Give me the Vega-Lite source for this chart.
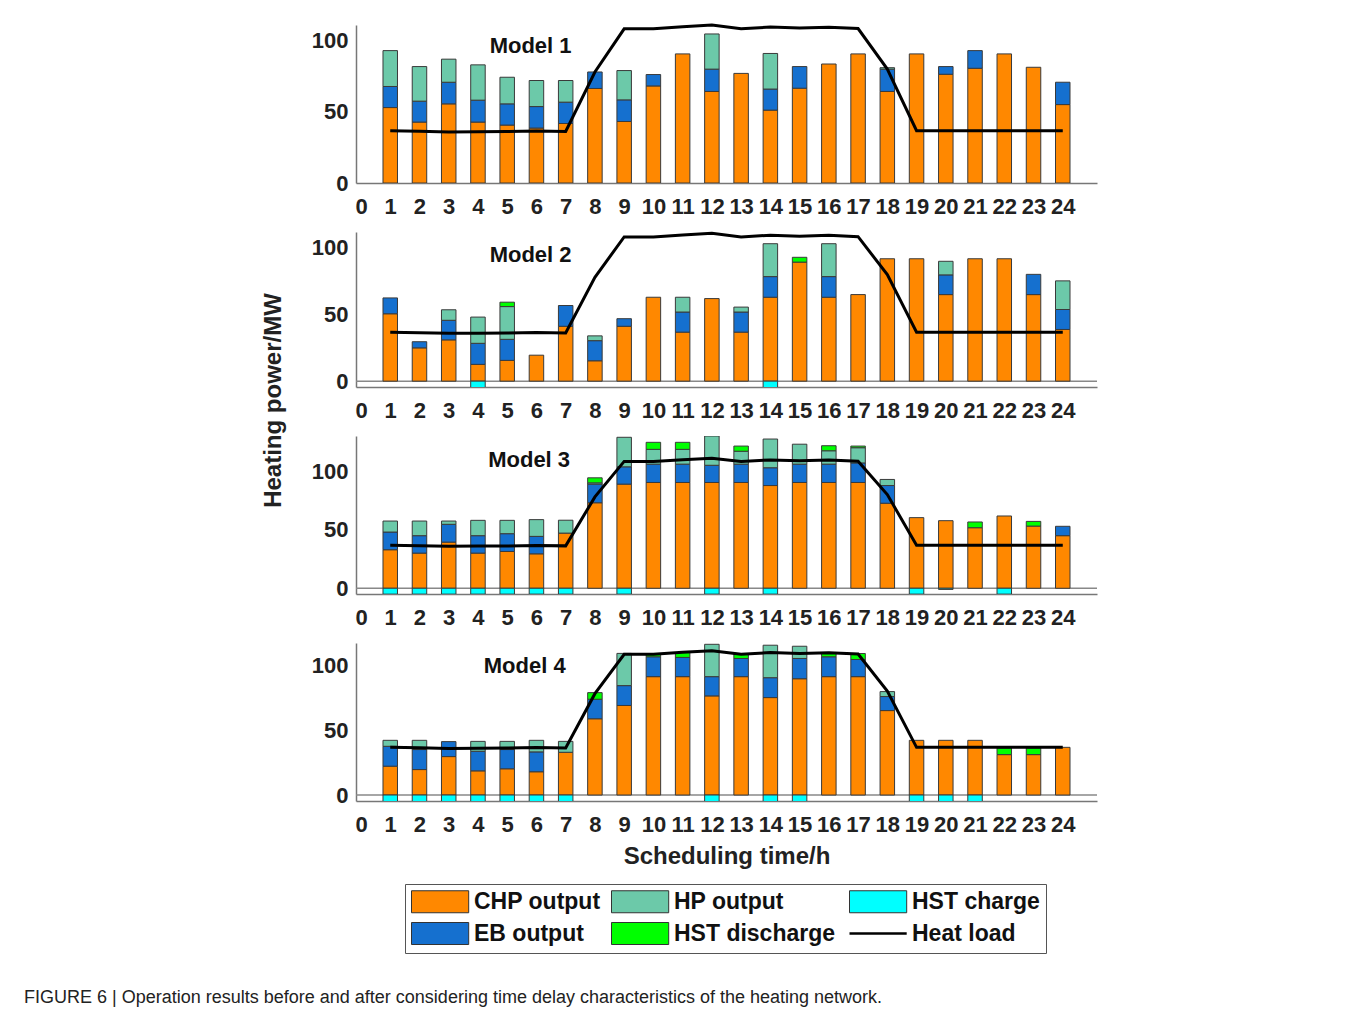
{
  "$schema": "https://vega.github.io/schema/vega-lite/v6.json",
  "autosize": {"type": "pad"},
  "padding": {"left": 24, "top": 19, "right": 0, "bottom": 0},
  "background": "white",
  "bounds": "flush",
  "spacing": 49,
  "config": {
    "view": {"stroke": null},
    "font": "Liberation Sans",
    "axis": {
      "labelFont": "Liberation Sans", "labelFontSize": 22, "labelFontWeight": "bold", "labelColor": "#222",
      "domainColor": "#777", "domainWidth": 1.5, "ticks": false, "grid": false,
      "titleFont": "Liberation Sans", "titleFontSize": 24, "titleFontWeight": "bold", "titleColor": "#222"
    },
    "axisX": {"labelPadding": 13, "labelAngle": 0, "labelOverlap": false, "labelFlush": false, "labelSeparation": 0},
    "axisY": {"labelPadding": 8},
    "legend": {
      "orient": "none", "legendX": 49, "legendY": 859,
      "title": null, "columns": 3, "direction": "horizontal",
      "symbolType": "M-1,-1H4.2V1H-1Z", "symbolSize": 484,
      "symbolStrokeColor": "#333", "symbolStrokeWidth": 1, "symbolOpacity": 1,
      "labelFont": "Liberation Sans", "labelFontSize": 23, "labelFontWeight": "bold", "labelColor": "#111",
      "labelOffset": 40, "labelLimit": 400, "columnPadding": 8, "rowPadding": 5,
      "strokeColor": "#555", "padding": 6, "fillColor": "white"
    }
  },
  "title": {
    "text": "FIGURE 6 | Operation results before and after considering time delay characteristics of the heating network.",
    "orient": "bottom", "anchor": "start", "frame": "group", "dx": -332, "offset": 35,
    "font": "Liberation Sans", "fontSize": 18, "fontWeight": "normal", "color": "#222"
  },
  "datasets": {
    "ops": [
      {"model":"Model 1","hour":1,"CHP output":53,"EB output":14.8,"HP output":25.2,"Heat load":36.7},
      {"model":"Model 1","hour":2,"CHP output":42.8,"EB output":14.7,"HP output":24.3,"Heat load":36.3},
      {"model":"Model 1","hour":3,"CHP output":55.6,"EB output":15.2,"HP output":16.2,"Heat load":35.9},
      {"model":"Model 1","hour":4,"CHP output":42.8,"EB output":15.4,"HP output":24.8,"Heat load":36},
      {"model":"Model 1","hour":5,"CHP output":40.7,"EB output":14.9,"HP output":18.7,"Heat load":36.1},
      {"model":"Model 1","hour":6,"CHP output":38.6,"EB output":15.1,"HP output":18.3,"Heat load":36.6},
      {"model":"Model 1","hour":7,"CHP output":41.8,"EB output":15,"HP output":15.2,"Heat load":36.2},
      {"model":"Model 1","hour":8,"CHP output":66.4,"EB output":11.6,"Heat load":78},
      {"model":"Model 1","hour":9,"CHP output":43.2,"EB output":15.2,"HP output":20.6,"Heat load":108.3},
      {"model":"Model 1","hour":10,"CHP output":68.2,"EB output":8,"Heat load":108.3},
      {"model":"Model 1","hour":11,"CHP output":90.7,"Heat load":109.8},
      {"model":"Model 1","hour":12,"CHP output":64.3,"EB output":15.7,"HP output":24.7,"Heat load":111},
      {"model":"Model 1","hour":13,"CHP output":77,"Heat load":108.3},
      {"model":"Model 1","hour":14,"CHP output":51.2,"EB output":14.8,"HP output":25,"Heat load":109.6},
      {"model":"Model 1","hour":15,"CHP output":66.6,"EB output":15.2,"Heat load":108.9},
      {"model":"Model 1","hour":16,"CHP output":83.6,"Heat load":109.5},
      {"model":"Model 1","hour":17,"CHP output":90.7,"Heat load":108.5},
      {"model":"Model 1","hour":18,"CHP output":64.3,"EB output":15.7,"HP output":1,"Heat load":80},
      {"model":"Model 1","hour":19,"CHP output":90.7,"Heat load":36.7},
      {"model":"Model 1","hour":20,"CHP output":76.4,"EB output":5.4,"Heat load":36.7},
      {"model":"Model 1","hour":21,"CHP output":80.6,"EB output":12.4,"Heat load":36.7},
      {"model":"Model 1","hour":22,"CHP output":90.7,"Heat load":36.7},
      {"model":"Model 1","hour":23,"CHP output":81.3,"Heat load":36.7},
      {"model":"Model 1","hour":24,"CHP output":55.1,"EB output":15.7,"Heat load":36.7},

      {"model":"Model 2","hour":1,"CHP output":50.6,"EB output":11.9,"Heat load":36.7},
      {"model":"Model 2","hour":2,"CHP output":25,"EB output":4.6,"Heat load":36.3},
      {"model":"Model 2","hour":3,"CHP output":31,"EB output":14.7,"HP output":7.9,"Heat load":35.9},
      {"model":"Model 2","hour":4,"CHP output":12.6,"EB output":15.8,"HP output":19.7,"HST charge":-5,"Heat load":36},
      {"model":"Model 2","hour":5,"CHP output":15.6,"EB output":15.8,"HP output":24.6,"HST discharge":3.3,"Heat load":36.1},
      {"model":"Model 2","hour":6,"CHP output":19.5,"Heat load":36.6},
      {"model":"Model 2","hour":7,"CHP output":41.2,"EB output":15.6,"Heat load":36.2},
      {"model":"Model 2","hour":8,"CHP output":15.3,"EB output":15.1,"HP output":3.6,"Heat load":78},
      {"model":"Model 2","hour":9,"CHP output":41.2,"EB output":5.7,"Heat load":108.3},
      {"model":"Model 2","hour":10,"CHP output":63,"Heat load":108.3},
      {"model":"Model 2","hour":11,"CHP output":36.8,"EB output":15.1,"HP output":11.1,"Heat load":109.8},
      {"model":"Model 2","hour":12,"CHP output":62,"Heat load":111},
      {"model":"Model 2","hour":13,"CHP output":36.8,"EB output":15.1,"HP output":3.7,"Heat load":108.3},
      {"model":"Model 2","hour":14,"CHP output":63,"EB output":15.5,"HP output":24.7,"HST charge":-5,"Heat load":109.6},
      {"model":"Model 2","hour":15,"CHP output":89.4,"HST discharge":3.6,"Heat load":108.9},
      {"model":"Model 2","hour":16,"CHP output":63,"EB output":15.5,"HP output":24.7,"Heat load":109.5},
      {"model":"Model 2","hour":17,"CHP output":65,"Heat load":108.5},
      {"model":"Model 2","hour":18,"CHP output":91.9,"Heat load":80},
      {"model":"Model 2","hour":19,"CHP output":91.9,"Heat load":36.7},
      {"model":"Model 2","hour":20,"CHP output":65,"EB output":14.8,"HP output":10.2,"Heat load":36.7},
      {"model":"Model 2","hour":21,"CHP output":91.9,"Heat load":36.7},
      {"model":"Model 2","hour":22,"CHP output":91.9,"Heat load":36.7},
      {"model":"Model 2","hour":23,"CHP output":65,"EB output":15.2,"Heat load":36.7},
      {"model":"Model 2","hour":24,"CHP output":38.8,"EB output":15,"HP output":21.5,"Heat load":36.7},

      {"model":"Model 3","hour":1,"CHP output":32.9,"EB output":15.1,"HP output":9.4,"HST charge":-5,"Heat load":36.7},
      {"model":"Model 3","hour":2,"CHP output":30,"EB output":14.9,"HP output":12.5,"HST charge":-5,"Heat load":36.3},
      {"model":"Model 3","hour":3,"CHP output":39.4,"EB output":15.2,"HP output":2.8,"HST charge":-5,"Heat load":35.9},
      {"model":"Model 3","hour":4,"CHP output":30,"EB output":14.9,"HP output":13.1,"HST charge":-5,"Heat load":36},
      {"model":"Model 3","hour":5,"CHP output":31.4,"EB output":15.2,"HP output":11.4,"HST charge":-5,"Heat load":36.1},
      {"model":"Model 3","hour":6,"CHP output":29.4,"EB output":14.9,"HP output":14.3,"HST charge":-5,"Heat load":36.6},
      {"model":"Model 3","hour":7,"CHP output":47.1,"HP output":11,"HST charge":-5,"Heat load":36.2},
      {"model":"Model 3","hour":8,"CHP output":73,"EB output":15.9,"HP output":1.1,"HST discharge":4.3,"Heat load":78},
      {"model":"Model 3","hour":9,"CHP output":88.9,"EB output":14.8,"HP output":25.2,"HST charge":-5,"Heat load":108.3},
      {"model":"Model 3","hour":10,"CHP output":90.3,"EB output":15.7,"HP output":12.6,"HST discharge":6,"Heat load":108.3},
      {"model":"Model 3","hour":11,"CHP output":90.3,"EB output":15.7,"HP output":12.6,"HST discharge":6,"Heat load":109.8},
      {"model":"Model 3","hour":12,"CHP output":90.3,"EB output":14.7,"HP output":25,"HST charge":-5,"Heat load":111},
      {"model":"Model 3","hour":13,"CHP output":90.3,"EB output":15.7,"HP output":11,"HST discharge":4.4,"Heat load":108.3},
      {"model":"Model 3","hour":14,"CHP output":87.7,"EB output":15.2,"HP output":24.5,"HST charge":-5,"Heat load":109.6},
      {"model":"Model 3","hour":15,"CHP output":90.3,"EB output":15.7,"HP output":17,"Heat load":108.9},
      {"model":"Model 3","hour":16,"CHP output":90.3,"EB output":15.7,"HP output":11.4,"HST discharge":4.3,"Heat load":109.5},
      {"model":"Model 3","hour":17,"CHP output":90.3,"EB output":16.7,"HP output":13,"HST discharge":1.4,"Heat load":108.5},
      {"model":"Model 3","hour":18,"CHP output":72.6,"EB output":15.1,"HP output":5.2,"Heat load":80},
      {"model":"Model 3","hour":19,"CHP output":60.3,"HST charge":-5,"Heat load":36.7},
      {"model":"Model 3","hour":20,"CHP output":57.7,"HST charge":-1,"Heat load":36.7},
      {"model":"Model 3","hour":21,"CHP output":51.7,"HST discharge":4.9,"Heat load":36.7},
      {"model":"Model 3","hour":22,"CHP output":61.7,"HST charge":-5,"Heat load":36.7},
      {"model":"Model 3","hour":23,"CHP output":53.1,"HST discharge":4,"Heat load":36.7},
      {"model":"Model 3","hour":24,"CHP output":44.9,"EB output":8,"Heat load":36.7},

      {"model":"Model 4","hour":1,"CHP output":22.2,"EB output":15.3,"HP output":4.6,"HST charge":-5,"Heat load":36.7},
      {"model":"Model 4","hour":2,"CHP output":19.6,"EB output":15.4,"HP output":7.1,"HST charge":-5,"Heat load":36.3},
      {"model":"Model 4","hour":3,"CHP output":29.6,"EB output":11.5,"HST charge":-5,"Heat load":35.9},
      {"model":"Model 4","hour":4,"CHP output":18.6,"EB output":15.1,"HP output":7.6,"HST charge":-5,"Heat load":36},
      {"model":"Model 4","hour":5,"CHP output":20.2,"EB output":14.8,"HP output":6.3,"HST charge":-5,"Heat load":36.1},
      {"model":"Model 4","hour":6,"CHP output":17.9,"EB output":15.3,"HP output":8.9,"HST charge":-5,"Heat load":36.6},
      {"model":"Model 4","hour":7,"CHP output":32.9,"HP output":8.4,"HST charge":-5,"Heat load":36.2},
      {"model":"Model 4","hour":8,"CHP output":58.7,"EB output":15,"HST discharge":5.1,"Heat load":78},
      {"model":"Model 4","hour":9,"CHP output":68.9,"EB output":15.3,"HP output":24.8,"Heat load":108.3},
      {"model":"Model 4","hour":10,"CHP output":91.1,"EB output":15.3,"HST discharge":2,"Heat load":108.3},
      {"model":"Model 4","hour":11,"CHP output":91.1,"EB output":14.8,"HST discharge":3.8,"Heat load":109.8},
      {"model":"Model 4","hour":12,"CHP output":76.3,"EB output":14.8,"HP output":24.9,"HST charge":-5,"Heat load":111},
      {"model":"Model 4","hour":13,"CHP output":91.1,"EB output":14,"HST discharge":3.4,"Heat load":108.3},
      {"model":"Model 4","hour":14,"CHP output":75,"EB output":15.3,"HP output":25,"HST charge":-5,"Heat load":109.6},
      {"model":"Model 4","hour":15,"CHP output":89.5,"EB output":15.6,"HP output":9.4,"HST charge":-5,"Heat load":108.9},
      {"model":"Model 4","hour":16,"CHP output":91.1,"EB output":15.3,"HST discharge":3.3,"Heat load":109.5},
      {"model":"Model 4","hour":17,"CHP output":91.1,"EB output":13.2,"HST discharge":4.6,"Heat load":108.5},
      {"model":"Model 4","hour":18,"CHP output":65,"EB output":10.8,"HP output":3.8,"Heat load":80},
      {"model":"Model 4","hour":19,"CHP output":42.1,"HST charge":-5,"Heat load":36.7},
      {"model":"Model 4","hour":20,"CHP output":42.1,"HST charge":-5,"Heat load":36.7},
      {"model":"Model 4","hour":21,"CHP output":42.1,"HST charge":-5,"Heat load":36.7},
      {"model":"Model 4","hour":22,"CHP output":31.1,"HST discharge":5.1,"Heat load":36.7},
      {"model":"Model 4","hour":23,"CHP output":31.1,"HST discharge":5.1,"Heat load":36.7},
      {"model":"Model 4","hour":24,"CHP output":36.7,"Heat load":36.7}
    ]
  },
  "vconcat": [
    {
      "width": 741, "height": 158,
      "encoding": {
        "x": {"field": "hour", "type": "quantitative", "scale": {"domain": [0, 25], "nice": false},
              "axis": {"values": [0,1,2,3,4,5,6,7,8,9,10,11,12,13,14,15,16,17,18,19,20,21,22,23,24], "labelOverlap": false, "labelSeparation": 0, "title": null}}
      },
      "layer": [
        {
          "data": {"name": "ops"},
          "transform": [
            {"filter": "datum.model === 'Model 1'"},
            {"fold": ["CHP output", "EB output", "HP output", "HST charge", "HST discharge"], "as": ["source", "value"]},
            {"filter": "isValid(datum.value)"}
          ],
          "mark": {"type": "bar", "width": 14.5, "stroke": "#3a3a3a", "strokeWidth": 1, "clip": true},
          "encoding": {
            "y": {"field": "value", "type": "quantitative", "stack": "zero", "scale": {"domain": [0, 111], "nice": false},
                  "axis": {"values": [0, 50, 100], "title": null}},
            "color": {"field": "source", "type": "nominal",
                      "scale": {"domain": ["CHP output", "HP output", "HST charge", "EB output", "HST discharge", "Heat load"],
                                "range": ["#FF8800", "#6CC9A9", "#00FFFF", "#1570CF", "#00FF00", "#000000"]},
                      "legend": {"encode": {"symbols": {"update": {
                        "shape": {"signal": "datum.value === 'Heat load' ? 'M-1,0H4.2' : 'M-1,-1H4.2V1H-1Z'"},
                        "stroke": {"signal": "datum.value === 'Heat load' ? '#000' : '#333'"},
                        "strokeWidth": {"signal": "datum.value === 'Heat load' ? 2.5 : 1"}}}}}},
            "order": {"field": "source", "sort": "ascending"}
          }
        },
        {
          "data": {"name": "ops"},
          "transform": [{"filter": "datum.model === 'Model 1'"}],
          "mark": {"type": "line", "color": "#000", "strokeWidth": 3},
          "encoding": {"y": {"field": "Heat load", "type": "quantitative"}}
        },
        {
          "data": {"values": [{"label": "Model 1", "hour": 5.8}]},
          "mark": {"type": "text", "font": "Liberation Sans", "fontSize": 22, "fontWeight": "bold", "color": "#111"},
          "encoding": {"y": {"datum": 96}, "text": {"field": "label"}}
        }
      ]
    },
    {
      "width": 741, "height": 155,
      "encoding": {
        "x": {"field": "hour", "type": "quantitative", "scale": {"domain": [0, 25], "nice": false},
              "axis": {"values": [0,1,2,3,4,5,6,7,8,9,10,11,12,13,14,15,16,17,18,19,20,21,22,23,24], "labelOverlap": false, "labelSeparation": 0, "title": null}}
      },
      "layer": [
        {
          "data": {"values": [{}]},
          "mark": {"type": "rule", "color": "#888", "strokeWidth": 1.5},
          "encoding": {"x": {"value": 0}, "x2": {"value": 741}, "y": {"datum": 0}}
        },
        {
          "data": {"name": "ops"},
          "transform": [
            {"filter": "datum.model === 'Model 2'"},
            {"fold": ["CHP output", "EB output", "HP output", "HST charge", "HST discharge"], "as": ["source", "value"]},
            {"filter": "isValid(datum.value)"}
          ],
          "mark": {"type": "bar", "width": 14.5, "stroke": "#3a3a3a", "strokeWidth": 1, "clip": true},
          "encoding": {
            "y": {"field": "value", "type": "quantitative", "stack": "zero", "scale": {"domain": [-4.4, 112], "nice": false},
                  "axis": {"values": [0, 50, 100], "title": "Heating power/MW", "titleX": -83, "titleY": 168,
                           "titleAngle": -90, "titleAlign": "center", "titleBaseline": "middle"}},
            "color": {"field": "source", "type": "nominal",
                      "scale": {"domain": ["CHP output", "HP output", "HST charge", "EB output", "HST discharge", "Heat load"],
                                "range": ["#FF8800", "#6CC9A9", "#00FFFF", "#1570CF", "#00FF00", "#000000"]}},
            "order": {"field": "source", "sort": "ascending"}
          }
        },
        {
          "data": {"name": "ops"},
          "transform": [{"filter": "datum.model === 'Model 2'"}],
          "mark": {"type": "line", "color": "#000", "strokeWidth": 3},
          "encoding": {"y": {"field": "Heat load", "type": "quantitative"}}
        },
        {
          "data": {"values": [{"label": "Model 2", "hour": 5.8}]},
          "mark": {"type": "text", "font": "Liberation Sans", "fontSize": 22, "fontWeight": "bold", "color": "#111"},
          "encoding": {"y": {"datum": 94.5}, "text": {"field": "label"}}
        }
      ]
    },
    {
      "width": 741, "height": 158,
      "encoding": {
        "x": {"field": "hour", "type": "quantitative", "scale": {"domain": [0, 25], "nice": false},
              "axis": {"values": [0,1,2,3,4,5,6,7,8,9,10,11,12,13,14,15,16,17,18,19,20,21,22,23,24], "labelOverlap": false, "labelSeparation": 0, "title": null}}
      },
      "layer": [
        {
          "data": {"values": [{}]},
          "mark": {"type": "rule", "color": "#888", "strokeWidth": 1.5},
          "encoding": {"x": {"value": 0}, "x2": {"value": 741}, "y": {"datum": 0}}
        },
        {
          "data": {"name": "ops"},
          "transform": [
            {"filter": "datum.model === 'Model 3'"},
            {"fold": ["CHP output", "EB output", "HP output", "HST charge", "HST discharge"], "as": ["source", "value"]},
            {"filter": "isValid(datum.value)"}
          ],
          "mark": {"type": "bar", "width": 14.5, "stroke": "#3a3a3a", "strokeWidth": 1, "clip": true},
          "encoding": {
            "y": {"field": "value", "type": "quantitative", "stack": "zero", "scale": {"domain": [-4.9, 130], "nice": false},
                  "axis": {"values": [0, 50, 100], "title": null}},
            "color": {"field": "source", "type": "nominal",
                      "scale": {"domain": ["CHP output", "HP output", "HST charge", "EB output", "HST discharge", "Heat load"],
                                "range": ["#FF8800", "#6CC9A9", "#00FFFF", "#1570CF", "#00FF00", "#000000"]}},
            "order": {"field": "source", "sort": "ascending"}
          }
        },
        {
          "data": {"name": "ops"},
          "transform": [{"filter": "datum.model === 'Model 3'"}],
          "mark": {"type": "line", "color": "#000", "strokeWidth": 3},
          "encoding": {"y": {"field": "Heat load", "type": "quantitative"}}
        },
        {
          "data": {"values": [{"label": "Model 3", "hour": 5.75}]},
          "mark": {"type": "text", "font": "Liberation Sans", "fontSize": 22, "fontWeight": "bold", "color": "#111"},
          "encoding": {"y": {"datum": 109.5}, "text": {"field": "label"}}
        }
      ]
    },
    {
      "width": 741, "height": 158,
      "encoding": {
        "x": {"field": "hour", "type": "quantitative", "scale": {"domain": [0, 25], "nice": false},
              "axis": {"values": [0,1,2,3,4,5,6,7,8,9,10,11,12,13,14,15,16,17,18,19,20,21,22,23,24], "labelOverlap": false, "labelSeparation": 0,
                       "title": "Scheduling time/h", "titlePadding": 9}}
      },
      "layer": [
        {
          "data": {"values": [{}]},
          "mark": {"type": "rule", "color": "#888", "strokeWidth": 1.5},
          "encoding": {"x": {"value": 0}, "x2": {"value": 741}, "y": {"datum": 0}}
        },
        {
          "data": {"name": "ops"},
          "transform": [
            {"filter": "datum.model === 'Model 4'"},
            {"fold": ["CHP output", "EB output", "HP output", "HST charge", "HST discharge"], "as": ["source", "value"]},
            {"filter": "isValid(datum.value)"}
          ],
          "mark": {"type": "bar", "width": 14.5, "stroke": "#3a3a3a", "strokeWidth": 1, "clip": true},
          "encoding": {
            "y": {"field": "value", "type": "quantitative", "stack": "zero", "scale": {"domain": [-4.6, 117], "nice": false},
                  "axis": {"values": [0, 50, 100], "title": null}},
            "color": {"field": "source", "type": "nominal",
                      "scale": {"domain": ["CHP output", "HP output", "HST charge", "EB output", "HST discharge", "Heat load"],
                                "range": ["#FF8800", "#6CC9A9", "#00FFFF", "#1570CF", "#00FF00", "#000000"]}},
            "order": {"field": "source", "sort": "ascending"}
          }
        },
        {
          "data": {"name": "ops"},
          "transform": [{"filter": "datum.model === 'Model 4'"}],
          "mark": {"type": "line", "color": "#000", "strokeWidth": 3},
          "encoding": {"y": {"field": "Heat load", "type": "quantitative"}}
        },
        {
          "data": {"values": [{"label": "Model 4", "hour": 5.6}]},
          "mark": {"type": "text", "font": "Liberation Sans", "fontSize": 22, "fontWeight": "bold", "color": "#111"},
          "encoding": {"y": {"datum": 99}, "text": {"field": "label"}}
        }
      ]
    }
  ],
  "resolve": {"scale": {"y": "independent"}}
}
